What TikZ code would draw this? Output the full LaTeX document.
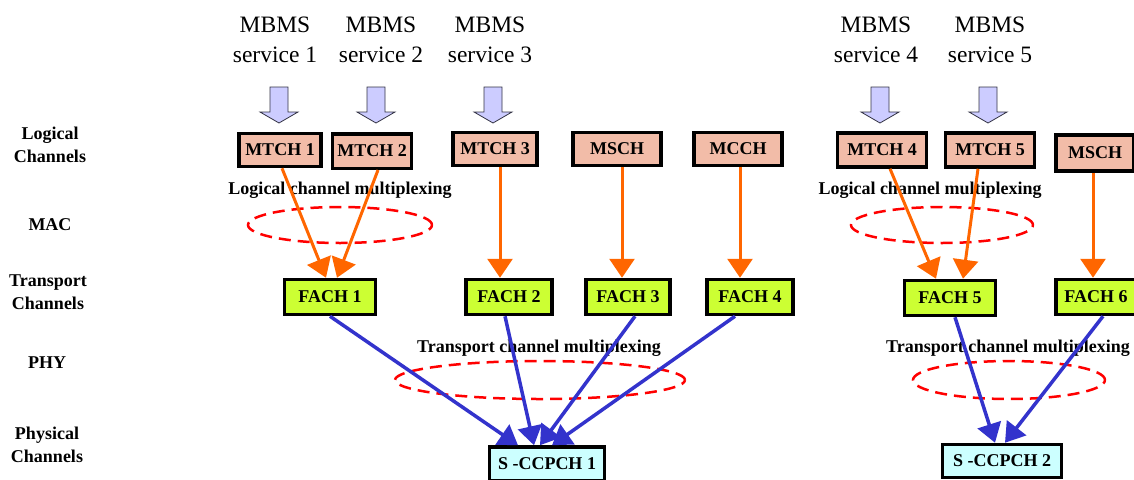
\documentclass[tikz,border=0pt]{standalone}
\usepackage{fontspec}
\setmainfont{Liberation Serif}
\usetikzlibrary{arrows.meta}

\definecolor{logfill}{HTML}{F2BCA8}
\definecolor{trfill}{HTML}{CCFF33}
\definecolor{phyfill}{HTML}{CCFFFF}
\definecolor{svcfill}{HTML}{CCCCFF}
\definecolor{svcline}{HTML}{333344}
\definecolor{logline}{HTML}{FF6600}
\definecolor{phyline}{HTML}{3333CC}
\definecolor{muxline}{HTML}{FF0000}

\tikzset{
  chanbox/.style={draw=black, line width=3.5pt, inner sep=0pt,
    font=\bfseries\fontsize{18}{20}\selectfont},
  logbox/.style={chanbox, fill=logfill, minimum height=33pt},
  trbox/.style={chanbox, fill=trfill, minimum height=35pt},
  phybox/.style={chanbox, fill=phyfill, minimum height=34pt},
  layerlabel/.style={font=\bfseries\fontsize{18}{23}\selectfont, align=center},
  svclabel/.style={font=\fontsize{23.5}{30}\selectfont, align=center},
  muxlabel/.style={font=\bfseries\fontsize{18}{20}\selectfont},
  muxring/.style={draw=muxline, line width=2.5pt, dash pattern=on 12pt off 7pt},
  logflow/.style={draw=logline, line width=3pt,
    -{Triangle[width=25pt,length=19pt]}},
  phyflow/.style={draw=phyline, line width=3.5pt,
    -{Triangle[width=24pt,length=19pt]}},
  svcarrow/.pic={
    \draw[draw=svcline, fill=svcfill, line width=0.8pt, line join=miter]
      (-9,0) -- (9,0) -- (9,25) -- (19,25) -- (0,36) -- (-19,25) -- (-9,25) -- cycle;
  }
}

\begin{document}
\begin{tikzpicture}[x=1pt, y=-1pt]
  \useasboundingbox (0,0) rectangle (1134,479);

  % layer names on the left
  \node[layerlabel] (lLog) at (50,145) {Logical\\Channels};
  \node[layerlabel] (lMac) at (50,225) {MAC};
  \node[layerlabel] (lTr)  at (48,292) {Transport\\Channels};
  \node[layerlabel] (lPhy) at (47,363) {PHY};
  \node[layerlabel] (lPc)  at (47,445) {Physical\\Channels};

  % MBMS services
  \node[svclabel] (sv1) at (275,40) {MBMS\\service 1};
  \node[svclabel] (sv2) at (381,40) {MBMS\\service 2};
  \node[svclabel] (sv3) at (490,40) {MBMS\\service 3};
  \node[svclabel] (sv4) at (876,40) {MBMS\\service 4};
  \node[svclabel] (sv5) at (990,40) {MBMS\\service 5};

  \pic at (279,87) {svcarrow};
  \pic at (376,87) {svcarrow};
  \pic at (493,87) {svcarrow};
  \pic at (880,87) {svcarrow};
  \pic at (988,87) {svcarrow};

  % multiplexing rings
  \draw[muxring] (340,225) ellipse [x radius=92pt, y radius=18pt];
  \draw[muxring] (942,225) ellipse [x radius=91pt, y radius=18pt];
  \draw[muxring] (540,380) ellipse [x radius=145pt, y radius=19pt];
  \draw[muxring] (1009,380) ellipse [x radius=96pt, y radius=19pt];

  \node[muxlabel] (mxL1) at (340,190) {Logical channel multiplexing};
  \node[muxlabel] (mxL2) at (930,190) {Logical channel multiplexing};
  \node[muxlabel] (mxT1) at (539,348) {Transport channel multiplexing};
  \node[muxlabel] (mxT2) at (1008,348) {Transport channel multiplexing};

  % logical channels
  \node[logbox, minimum width=82pt] (m1)  at (280,150) {MTCH 1};
  \node[logbox, minimum width=79pt, minimum height=34.5pt] (m2) at (372,151) {MTCH 2};
  \node[logbox, minimum width=84pt] (m3)  at (495,149) {MTCH 3};
  \node[logbox, minimum width=88pt] (ms1) at (617,149) {MSCH};
  \node[logbox, minimum width=88pt] (mc)  at (738,149) {MCCH};
  \node[logbox, minimum width=89pt, minimum height=34pt] (m4) at (882,150) {MTCH 4};
  \node[logbox, minimum width=89pt, minimum height=34pt] (m5) at (990,150) {MTCH 5};
  \node[logbox, minimum width=78pt, minimum height=36pt] (ms2) at (1095,153) {MSCH};

  % transport channels
  \node[trbox, minimum width=91pt] (f1) at (330,297) {FACH 1};
  \node[trbox, minimum width=86pt] (f2) at (509,297) {FACH 2};
  \node[trbox, minimum width=84pt] (f3) at (628,297) {FACH 3};
  \node[trbox, minimum width=86pt] (f4) at (750,297) {FACH 4};
  \node[trbox, minimum width=91pt] (f5) at (950,298) {FACH 5};
  \node[trbox, minimum width=80pt] (f6) at (1096,297) {FACH 6};

  % physical channels
  \node[phybox, minimum width=115pt] (c1) at (547,464) {S -CCPCH 1};
  \node[phybox, minimum width=119pt, minimum height=33pt] (c2) at (1002,461) {S -CCPCH 2};

  % logical -> transport
  \draw[logflow] ([xshift=2pt]m1.south)  -- ([xshift=-4pt]f1.north);
  \draw[logflow] ([xshift=6pt]m2.south)  -- ([xshift=7pt]f1.north);
  \draw[logflow] ([xshift=5pt]m3.south)  -- ([xshift=-9pt]f2.north);
  \draw[logflow] ([xshift=5pt]ms1.south) -- ([xshift=-6pt]f3.north);
  \draw[logflow] ([xshift=2pt]mc.south)  -- ([xshift=-10pt]f4.north);
  \draw[logflow] ([xshift=8pt]m4.south)  -- ([xshift=-14pt]f5.north);
  \draw[logflow] ([xshift=-12pt]m5.south) -- ([xshift=13pt]f5.north);
  \draw[logflow] ([xshift=-2pt]ms2.south) -- ([xshift=-3pt]f6.north);

  % transport -> physical
  \draw[phyflow] ([xshift=0pt]f1.south)  -- ([xshift=-29pt]c1.north);
  \draw[phyflow] ([xshift=-4pt]f2.south) -- ([xshift=-13pt]c1.north);
  \draw[phyflow] ([xshift=7pt]f3.south)  -- ([xshift=-7pt]c1.north);
  \draw[phyflow] ([xshift=-15pt]f4.south) -- ([xshift=5pt]c1.north);
  \draw[phyflow] ([xshift=5pt]f5.south)  -- ([xshift=-7pt]c2.north);
  \draw[phyflow] ([xshift=7pt]f6.south)  -- ([xshift=3pt]c2.north);
\end{tikzpicture}
\end{document}
